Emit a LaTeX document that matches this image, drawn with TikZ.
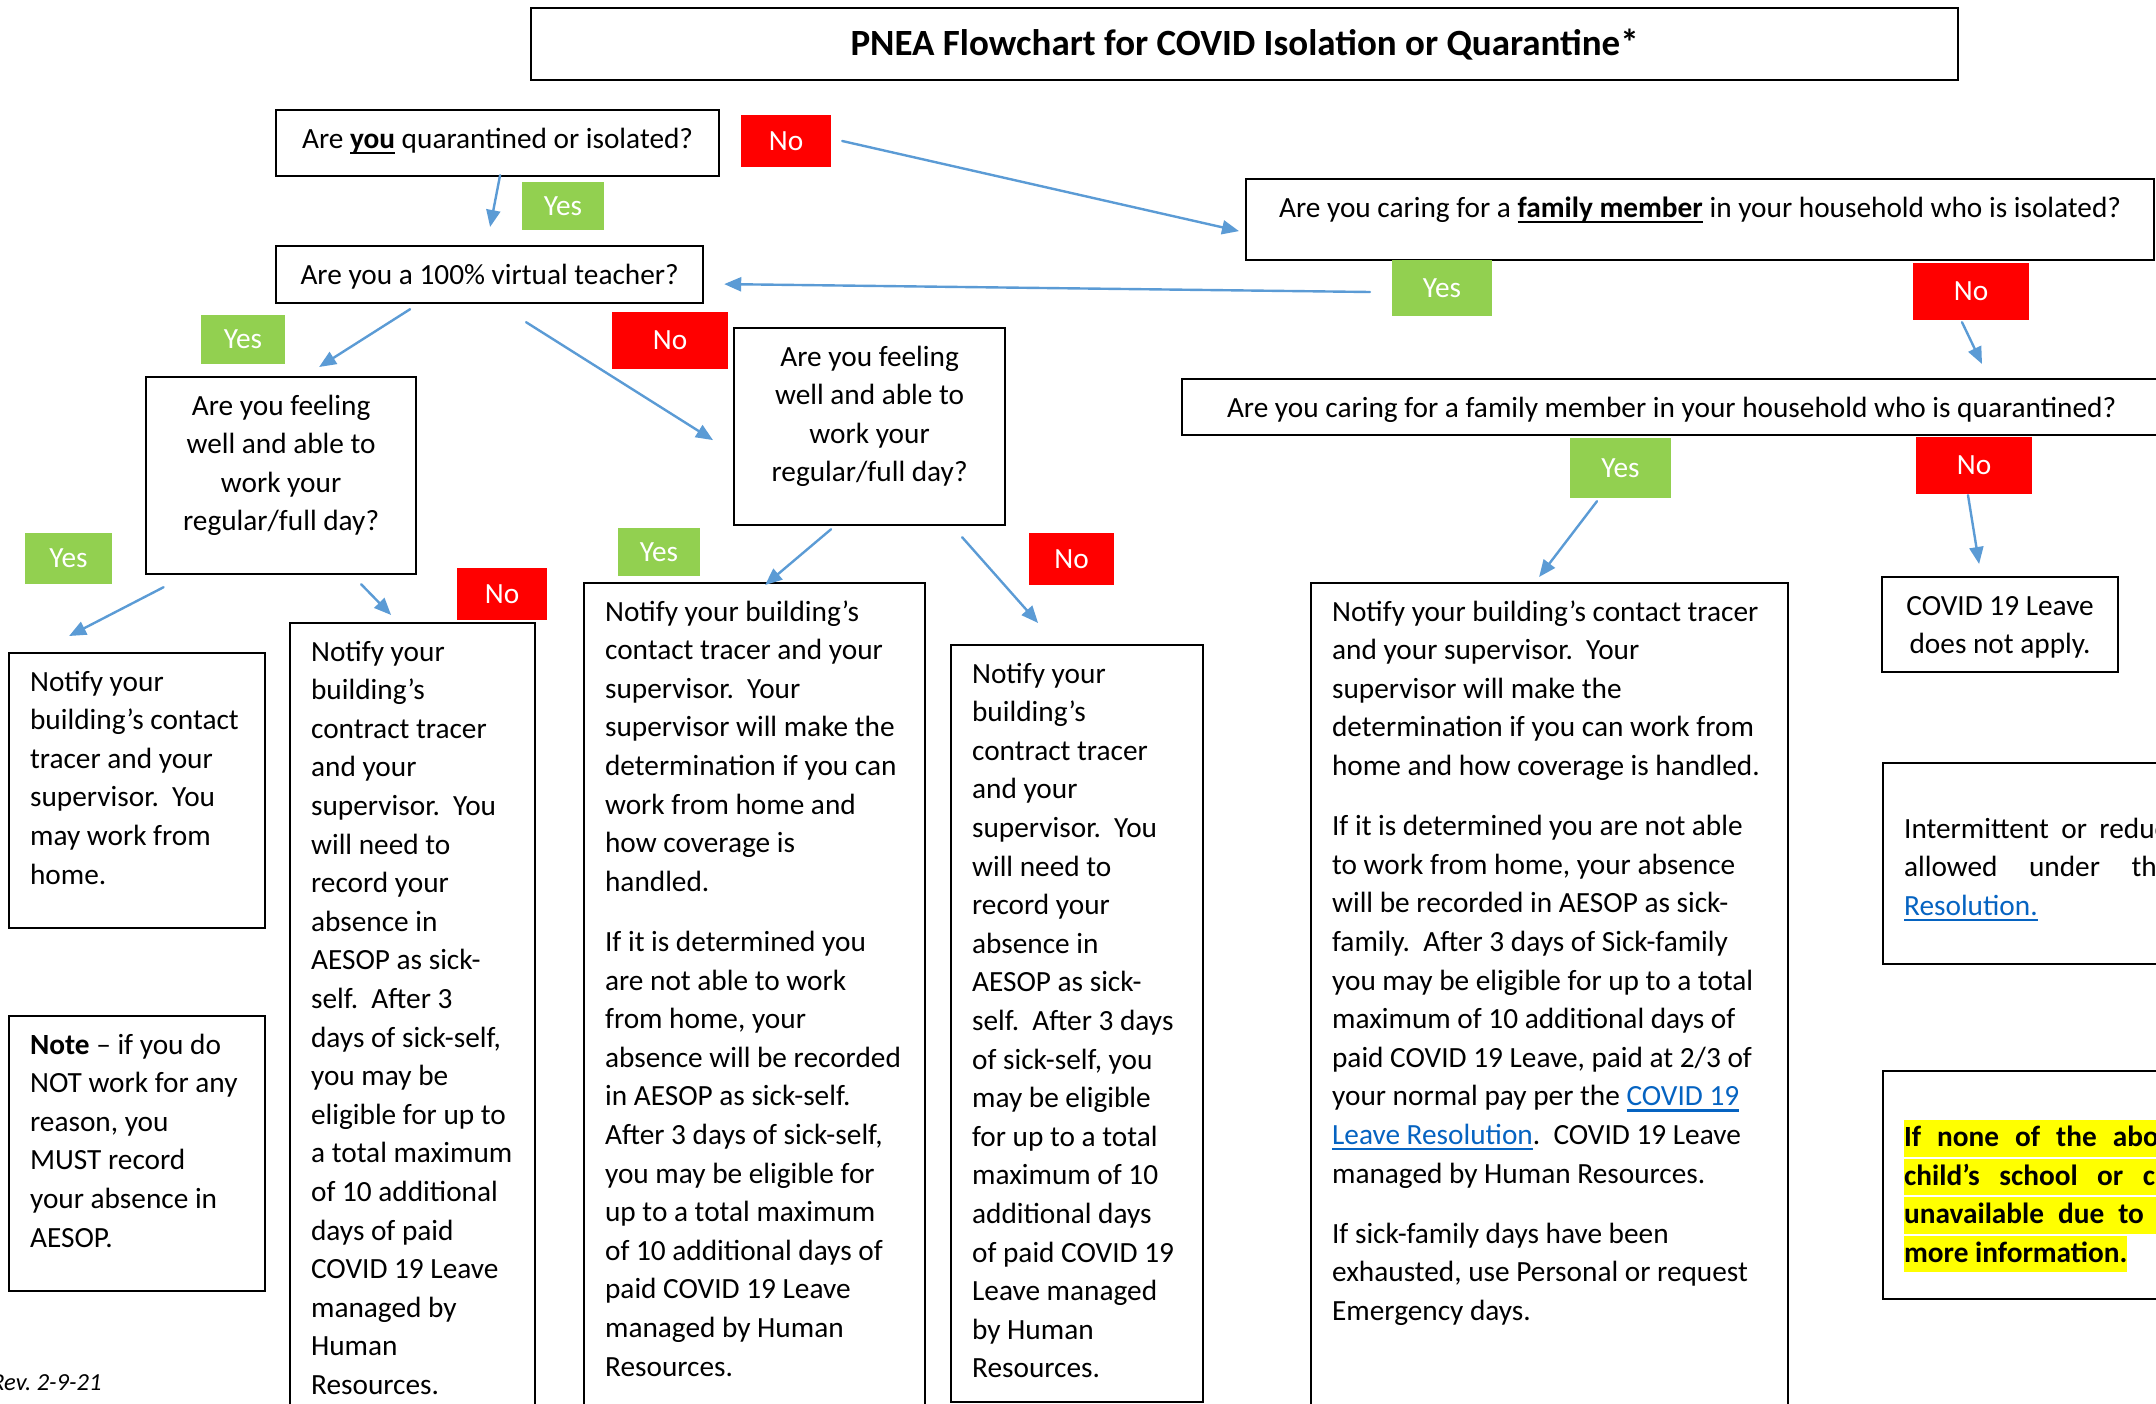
\documentclass[tikz,border=0pt]{standalone}
\usepackage{fontspec}
\setmainfont{Carlito}
\usepackage{tikz}
\usetikzlibrary{arrows.meta, calc}
\definecolor{arrowBlue}{HTML}{5B9BD5}
\definecolor{yesGreen}{HTML}{92D050}
\definecolor{noRed}{HTML}{FF0000}
\definecolor{linkBlue}{HTML}{0563C1}
\definecolor{markYellow}{HTML}{FFFF00}
\frenchspacing
\newsavebox{\linebox}
\newcommand{\undertext}[1]{\sbox{\linebox}{#1}\rlap{\rule[-5.6pt]{\wd\linebox}{2.2pt}}\usebox{\linebox}}
\newcommand{\boxtext}[3]{\parbox[t][#2pt][t]{#1pt}{\raggedright\strut #3}}
\newcommand{\weblink}[1]{\textcolor{linkBlue}{\undertext{#1}}}
\newcommand{\hilite}[1]{\colorbox{markYellow}{\rule[-10pt]{0pt}{36.5pt}#1}}

\begin{document}
\begin{tikzpicture}[x=1pt, y=-1pt, line cap=round,
  font=\fontsize{29.3}{38.6}\selectfont,
  box/.style={draw, line width=2.2pt, anchor=north west, inner xsep=21pt, inner ysep=11pt},
  yes/.style={fill=yesGreen, text=white, inner sep=0pt},
  no/.style={fill=noRed, text=white, inner sep=0pt},
  flow/.style={draw=arrowBlue, line width=2.4pt, -{Triangle[length=17pt, width=14pt]}}]
  \useasboundingbox (0,0) rectangle (2156,1404);
  \clip (0,0) rectangle (2156,1404);

  % questions
  \node[box, minimum width=1427pt, minimum height=72pt, inner sep=0pt, font=\fontsize{37}{44}\selectfont\bfseries] (title) at (530,7) {PNEA Flowchart for COVID Isolation or Quarantine*};
  \node[box] (quarYou) at (275,109) {\boxtext{401}{44}{\centering Are \textbf{\undertext{you}} quarantined or isolated?}};
  \node[box] (virtual) at (275,245) {\boxtext{385}{35}{\centering Are you a 100\% virtual teacher?}};
  \node[box] (famIso) at (1245,178) {\boxtext{866}{59}{\centering Are you caring for a \textbf{\undertext{family member}} in your household who is isolated?}};
  \node[box] (famQuar) at (1181,378) {\boxtext{937}{34}{\centering Are you caring for a family member in your household who is quarantined?}};
  \node[box] (wellA) at (145,376) {\boxtext{228}{175}{\centering Are you feeling\\ well and able to\\ work your\\ regular/full day?}};
  \node[box] (wellB) at (733,327) {\boxtext{229}{175}{\centering Are you feeling\\ well and able to\\ work your\\ regular/full day?}};

  % answers
  \node[box] (homeWork) at (8,652) {\boxtext{214}{253}{Notify your\\ building’s contact\\ tracer and your\\ supervisor.~ You\\ may work from\\ home.}};
  \node[box] (noteBox) at (8,1015) {\boxtext{214}{253}{\textbf{Note} – if you do\\ NOT work for any\\ reason, you\\ MUST record\\ your absence in\\ AESOP.}};
  \node[box] (sickA) at (289,622) {\boxtext{203}{786}{Notify your\\ building’s\\ contract tracer\\ and your\\ supervisor.~ You\\ will need to\\ record your\\ absence in\\ AESOP as sick-\\ self.~ After 3\\ days of sick-self,\\ you may be\\ eligible for up to\\ a total maximum\\ of 10 additional\\ days of paid\\ COVID 19 Leave\\ managed by\\ Human\\ Resources.}};
  \node[box] (coverA) at (583,582) {\boxtext{299}{826}{Notify your building’s\\ contact tracer and your\\ supervisor.~ Your\\ supervisor will make the\\ determination if you can\\ work from home and\\ how coverage is\\ handled.\\[21.6pt] If it is determined you\\ are not able to work\\ from home, your\\ absence will be recorded\\ in AESOP as sick-self.\\ After 3 days of sick-self,\\ you may be eligible for\\ up to a total maximum\\ of 10 additional days of\\ paid COVID 19 Leave\\ managed by Human\\ Resources.}};
  \node[box] (sickB) at (950,644) {\boxtext{210}{735}{Notify your\\ building’s\\ contract tracer\\ and your\\ supervisor.~ You\\ will need to\\ record your\\ absence in\\ AESOP as sick-\\ self.~ After 3 days\\ of sick-self, you\\ may be eligible\\ for up to a total\\ maximum of 10\\ additional days\\ of paid COVID 19\\ Leave managed\\ by Human\\ Resources.}};
  \node[box] (coverB) at (1310,582) {\boxtext{435}{826}{Notify your building’s contact tracer\\ and your supervisor.~ Your\\ supervisor will make the\\ determination if you can work from\\ home and how coverage is handled.\\[21.6pt] If it is determined you are not able\\ to work from home, your absence\\ will be recorded in AESOP as sick-\\ family.~ After 3 days of Sick-family\\ you may be eligible for up to a total\\ maximum of 10 additional days of\\ paid COVID 19 Leave, paid at 2/3 of\\ your normal pay per the \weblink{COVID 19}\\ \weblink{Leave Resolution}.~ COVID 19 Leave\\ managed by Human Resources.\\[21.6pt] If sick-family days have been\\ exhausted, use Personal or request\\ Emergency days.}};
  \node[box] (noLeave) at (1881,576) {\boxtext{194}{73}{\centering COVID 19 Leave\\ does not apply.}};
  \node[box, inner ysep=48pt] (intermit) at (1882,762) {\boxtext{476}{105}{{\spaceskip=12.5pt Intermittent or reduced}\\ {\spaceskip=31.5pt allowed under the}\\ \weblink{Resolution.}}};
  \node[box, inner ysep=49pt] (noneAbove) at (1882,1070) {\parbox[t][130pt][t]{476pt}{\bfseries\setlength{\fboxsep}{0pt}%
    \hilite{\spaceskip=16pt If none of the above}\\ \hilite{\spaceskip=19.5pt child’s school or child}\\ \hilite{\spaceskip=14pt unavailable due to\hspace{60pt}}\\ \hilite{more information.}}};
  \node[anchor=base east, font=\fontsize{24.5}{29}\selectfont\itshape] (revDate) at (105,1390) {Rev. 2-9-21};

  % yes / no tags
  \node[no, minimum width=90pt, minimum height=52pt] (noYou) at (786,141) {No};
  \node[yes, minimum width=82pt, minimum height=48pt] (yesYou) at (563,206) {Yes};
  \node[yes, minimum width=84pt, minimum height=49pt] (yesVirt) at (243,339.5) {Yes};
  \node[no, minimum width=116pt, minimum height=57pt] (noVirt) at (670,340.5) {No};
  \node[yes, minimum width=100pt, minimum height=56pt] (yesIso) at (1442,288) {Yes};
  \node[no, minimum width=116pt, minimum height=57pt] (noIso) at (1971,291.5) {No};
  \node[yes, minimum width=101pt, minimum height=60pt] (yesQuar) at (1620.5,468) {Yes};
  \node[no, minimum width=116pt, minimum height=57pt] (noQuar) at (1974,465.5) {No};
  \node[yes, minimum width=87pt, minimum height=51pt] (yesWellA) at (68.5,558.5) {Yes};
  \node[no, minimum width=90pt, minimum height=52pt] (noWellA) at (502,594) {No};
  \node[yes, minimum width=82pt, minimum height=48pt] (yesWellB) at (659,552) {Yes};
  \node[no, minimum width=85pt, minimum height=52pt] (noWellB) at (1071.5,559) {No};

  % arrows
  \draw[flow] ($(quarYou.south)+(2.5,-2)$) -- ($(virtual.north)+(0.5,-18)$);
  \draw[flow] ($(noYou.east)+(11,0)$) -- ($(famIso.west)+(-6,11.5)$);
  \draw[flow] ($(yesIso.west)+(-22,4)$) -- ($(virtual.east)+(20,9.5)$);
  \draw[flow] ($(noIso.south)+(-9,2)$) -- ($(noIso.south |- famQuar.north)+(11,-14)$);
  \draw[flow] ($(yesQuar.south)+(-23.5,3)$) -- ($(coverB.north)+(-10.5,-5)$);
  \draw[flow] ($(noQuar.south)+(-6,1)$) -- ($(noLeave.north)+(-21,-12)$);
  \draw[flow] ($(virtual.south)+(-79.5,5)$) -- ($(wellA.north)+(38,-9)$);
  \draw[flow] ($(virtual.south)+(36.5,18)$) -- ($(wellB.west)+(-20,13.5)$);
  \draw[flow] ($(wellA.south)+(-117.5,12)$) -- ($(homeWork.north)+(-68,-16)$);
  \draw[flow] ($(wellA.south)+(80,9)$) -- ($(sickA.north)+(-21.5,-7)$);
  \draw[flow] ($(wellB.south)+(-38.5,3)$) -- ($(coverA.north)+(10.5,3)$);
  \draw[flow] ($(wellB.south)+(92.5,11)$) -- ($(sickB.north)+(-39,-21)$);
\end{tikzpicture}
\end{document}
